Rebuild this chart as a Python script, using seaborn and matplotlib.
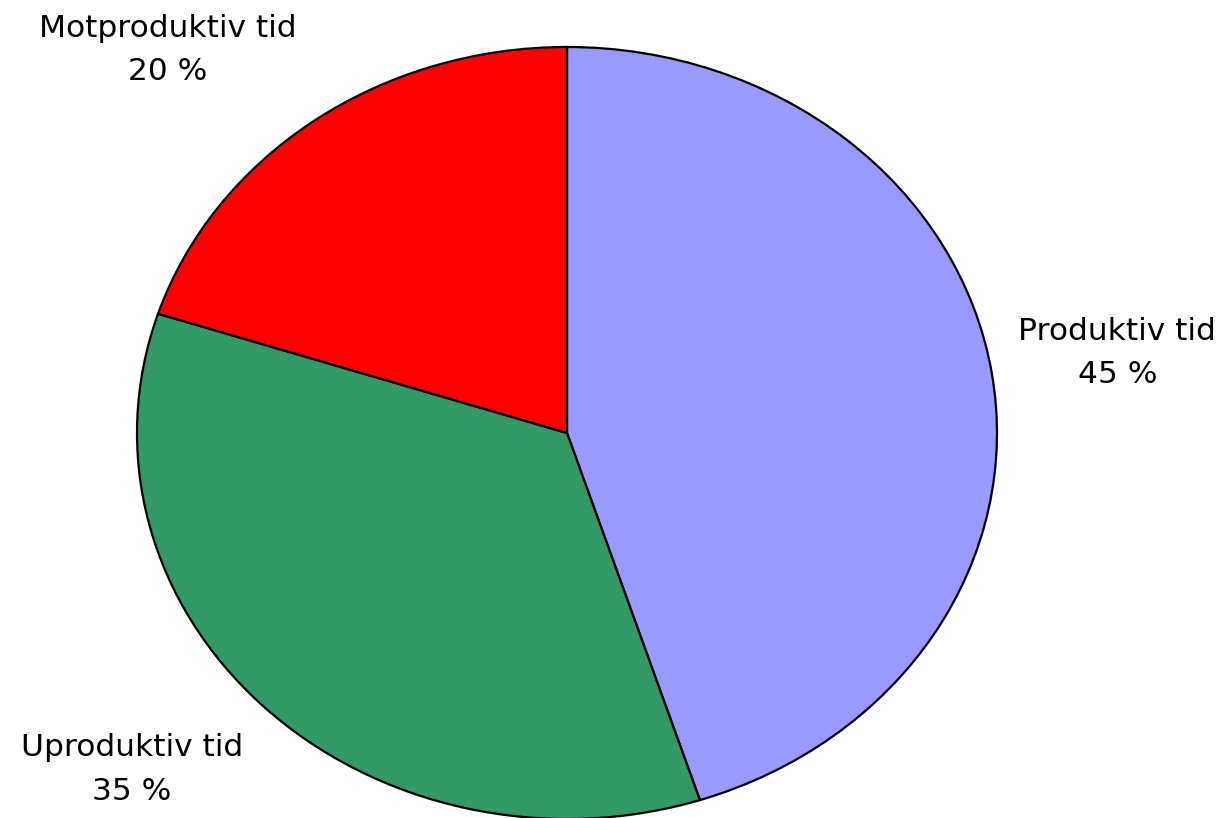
import matplotlib
matplotlib.use("Agg")
import matplotlib.pyplot as plt
import seaborn as sns

sns.set_theme(style="white")
plt.rcParams["font.family"] = ["DejaVu Sans"]

categories = ["Produktiv tid", "Uproduktiv tid", "Motproduktiv tid"]
shares = [45, 35, 20]
colors = ["#9999FF", "#339966", "#FF0000"]
label_pos = [(1.280, 0.207), (-1.012, -0.872), (-0.928, 0.993)]

fig = plt.figure(figsize=(12.3, 8.18), dpi=100)
ax = fig.add_axes([137 / 1230, -1 / 818, 860 / 1230, 772 / 818])

ax.pie(shares, colors=colors, startangle=90, counterclock=False,
       wedgeprops=dict(edgecolor="black", linewidth=1.6))
ax.set_aspect("auto")
ax.set_xlim(-1, 1)
ax.set_ylim(-1, 1)
ax.axis("off")

for name, val, (x, y) in zip(categories, shares, label_pos):
    ax.text(x, y, f"{name}\n{val} %", ha="center", va="center", color="black",
            fontsize=22.5, linespacing=1.62, clip_on=False)

fig.savefig("out.png", dpi=100)
